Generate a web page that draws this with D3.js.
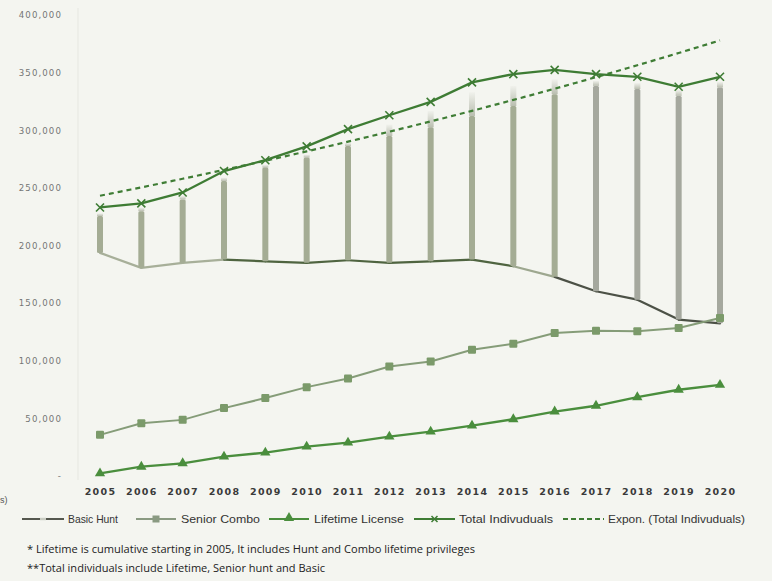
<!DOCTYPE html>
<html>
<head>
<meta charset="utf-8">
<script src="https://cdn.jsdelivr.net/npm/d3@7"></script>
<style>
  html, body { margin: 0; padding: 0; background: #f4f5f0; }
  svg { display: block; }
</style>
</head>
<body>
<svg id="chart" width="772" height="581"></svg>
<script>
// License counts by year
const years = ["2005","2006","2007","2008","2009","2010","2011","2012","2013","2014","2015","2016","2017","2018","2019","2020"];
const basicHunt   = [193600,180600,185000,187800,186300,185000,187200,185000,186300,187800,182000,172800,160300,153000,135700,132500];
const seniorCombo = [35700,45800,48700,58900,67600,77100,84600,95000,99400,109600,114800,124100,126100,125500,128400,137100];
const lifetime    = [2300,8100,11000,16800,20300,25500,29000,34200,38500,43700,49300,55900,60900,68400,74800,79100];
const totalIndiv  = [233000,236500,246000,264600,274000,286000,301000,313000,324600,341500,348700,352400,348700,346400,337700,346400];
// vertical bands rising from the Basic Hunt line
const bandTop  = [225500,229800,240000,255900,267600,276300,286300,295000,302600,312400,321000,331300,338500,335700,329800,337100];
const bandHaze = [228000,233000,243000,259000,270000,279000,289000,305000,316800,333000,338500,344300,343000,341000,335000,342000];
const yTicks = [0,50000,100000,150000,200000,250000,300000,350000,400000];
const legendLabels = ["Basic Hunt","Senior Combo","Lifetime License","Total Indivuduals","Expon. (Total Indivuduals)"];
const notes = [
  "* Lifetime is cumulative starting in 2005, It includes Hunt and Combo lifetime privileges",
  "**Total individuals include Lifetime, Senior hunt and Basic"
];

const svg = d3.select("#chart");
const x = d3.scalePoint().domain(years).range([100, 720]);
const y = d3.scaleLinear().domain([0, 400000]).range([476, 15]);

// y axis
const yAxis = d3.axisLeft(y).tickValues(yTicks).tickSize(0).tickPadding(4)
  .tickFormat(d => d === 0 ? "-" : d3.format(",")(d));
const gy = svg.append("g").attr("transform", "translate(66,0)").call(yAxis);
gy.select(".domain").remove();
gy.selectAll("text").attr("fill", "#757575").style("font-family", "DejaVu Sans")
  .style("font-size", "8.6px").style("letter-spacing", "1.1px");

// faint plot frame line
svg.append("line").attr("x1", 78).attr("x2", 78).attr("y1", 8).attr("y2", 480)
  .attr("stroke", "#e6e7e1").attr("stroke-width", 1);

// x axis
const xAxis = d3.axisBottom(x).tickSize(0).tickPadding(0);
const gx = svg.append("g").attr("transform", "translate(0,488)").call(xAxis);
gx.select(".domain").remove();
gx.selectAll("text").attr("fill", "#3a3a3a").style("font-family", "DejaVu Sans")
  .style("font-weight", "bold").style("font-size", "9.5px").style("letter-spacing", "1.3px");

// Basic Hunt line, drawn segment by segment
const basicSegColor = (i) => i < 3 ? "#a7af99" : (i < 10 ? "#4f6440" : (i === 10 ? "#9da78f" : "#4c5146"));
for (let i = 0; i < years.length - 1; i++) {
  svg.append("line")
    .attr("x1", x(years[i])).attr("y1", y(basicHunt[i]))
    .attr("x2", x(years[i + 1])).attr("y2", y(basicHunt[i + 1]))
    .attr("stroke", basicSegColor(i)).attr("stroke-width", 2.2).attr("stroke-linecap", "round");
}

// bands
const defs = svg.append("defs");
const grad = defs.append("linearGradient").attr("id", "haze").attr("x1", 0).attr("x2", 0).attr("y1", 0).attr("y2", 1);
grad.append("stop").attr("offset", "0%").attr("stop-color", "#a6ab9a").attr("stop-opacity", 0.05);
grad.append("stop").attr("offset", "100%").attr("stop-color", "#a6ab9a").attr("stop-opacity", 0.75);

const bandData = years.map((yr, i) => ({ yr, lo: basicHunt[i], hi: bandTop[i], haze: bandHaze[i], i }));
svg.append("g").selectAll("rect.haze").data(bandData).join("rect")
  .attr("class", "haze")
  .attr("x", d => x(d.yr) - 3).attr("width", 6)
  .attr("y", d => y(d.haze)).attr("height", d => Math.max(0, y(d.hi) - y(d.haze)))
  .attr("fill", "url(#haze)");
svg.append("g").selectAll("rect.band").data(bandData).join("rect")
  .attr("class", "band")
  .attr("x", d => x(d.yr) - 3).attr("width", 6)
  .attr("y", d => y(d.hi)).attr("height", d => y(d.lo) - y(d.hi))
  .attr("rx", 1.5)
  .attr("fill", d => d.i >= 12 ? "#a5a89e" : "#a4ac94");

// Senior Combo
const line = d3.line().x((d, i) => x(years[i])).y(d => y(d));
svg.append("path").datum(seniorCombo).attr("d", line)
  .attr("fill", "none").attr("stroke", "#859c78").attr("stroke-width", 2);
svg.append("g").selectAll("rect").data(seniorCombo).join("rect")
  .attr("x", (d, i) => x(years[i]) - 4).attr("y", d => y(d) - 4)
  .attr("width", 8).attr("height", 8).attr("rx", 1)
  .attr("fill", "#7b9a6a");

// Lifetime License
svg.append("path").datum(lifetime).attr("d", line)
  .attr("fill", "none").attr("stroke", "#4a8e3d").attr("stroke-width", 2.4);
const tri = d3.symbol().type(d3.symbolTriangle).size(46);
svg.append("g").selectAll("path").data(lifetime).join("path")
  .attr("d", tri)
  .attr("transform", (d, i) => `translate(${x(years[i])},${y(d)})`)
  .attr("fill", "#4a8e3d");

// exponential trend of Total Individuals (least squares on ln values)
const n = totalIndiv.length;
const lnv = totalIndiv.map(v => Math.log(v));
const mx = d3.mean(d3.range(n));
const my = d3.mean(lnv);
const slope = d3.sum(d3.range(n), i => (i - mx) * (lnv[i] - my)) / d3.sum(d3.range(n), i => (i - mx) ** 2);
const icpt = my - slope * mx;
const xi = d3.scaleLinear().domain([0, n - 1]).range([100, 720]);
const trendPts = d3.range(0, n - 1 + 0.001, 0.25).map(t => [xi(t), y(Math.exp(icpt + slope * t))]);
svg.append("path").datum(trendPts).attr("d", d3.line())
  .attr("fill", "none").attr("stroke", "#3f7d35").attr("stroke-width", 2.2)
  .attr("stroke-dasharray", "5,4");

// Total Individuals
svg.append("path").datum(totalIndiv).attr("d", line)
  .attr("fill", "none").attr("stroke", "#3e7c34").attr("stroke-width", 2.3);
svg.append("g").selectAll("path").data(totalIndiv).join("path")
  .attr("d", "M-4,-4L4,4M-4,4L4,-4")
  .attr("transform", (d, i) => `translate(${x(years[i])},${y(d)})`)
  .attr("stroke", "#3e7c34").attr("stroke-width", 1.6).attr("fill", "none");

// cropped remnant at the far left
svg.append("text").attr("x", 0).attr("y", 503).text("s)")
  .attr("fill", "#555").style("font-family", "Liberation Sans").style("font-size", "9px");

// legend
const lg = svg.append("g").style("font-family", "Liberation Sans").style("font-size", "10.5px").attr("fill", "#333");
const ly = 519;
const items = [
  { x1: 22, x2: 64, tx: 68, tw: 50, color: "#55584f", mark: "gap" },
  { x1: 136, x2: 176, tx: 181, tw: 79, color: "#8a9a82", mark: "square" },
  { x1: 269, x2: 309, tx: 314, tw: 90, color: "#4a8e3d", mark: "tri" },
  { x1: 414, x2: 455, tx: 459, tw: 94, color: "#3e7c34", mark: "x" },
  { x1: 563, x2: 604, tx: 608, tw: 137, color: "#3e7c34", mark: "dash" }
];
items.forEach((it, k) => {
  const mid = (it.x1 + it.x2) / 2;
  lg.append("line").attr("x1", it.x1).attr("x2", it.x2).attr("y1", ly).attr("y2", ly)
    .attr("stroke", it.color).attr("stroke-width", 2.2)
    .attr("stroke-dasharray", it.mark === "dash" ? "5,3" : null);
  if (it.mark === "gap") {
    lg.append("line").attr("x1", mid - 3).attr("x2", mid + 3).attr("y1", ly).attr("y2", ly)
      .attr("stroke", "#c9ccc2").attr("stroke-width", 2.4);
  } else if (it.mark === "square") {
    lg.append("rect").attr("x", mid - 3.5).attr("y", ly - 3.5).attr("width", 7).attr("height", 7).attr("fill", "#8a9a82");
  } else if (it.mark === "tri") {
    lg.append("path").attr("d", tri).attr("transform", `translate(${mid},${ly - 1})`).attr("fill", it.color);
  } else if (it.mark === "x") {
    lg.append("path").attr("d", "M-3,-3L3,3M-3,3L3,-3").attr("transform", `translate(${mid},${ly})`)
      .attr("stroke", it.color).attr("stroke-width", 1.5);
  }
  lg.append("text").attr("x", it.tx).attr("y", ly + 3.8).text(legendLabels[k])
    .attr("textLength", it.tw).attr("lengthAdjust", "spacingAndGlyphs");
});

// footnotes
const fn = svg.append("g").style("font-family", "Open Sans").style("font-size", "11.5px").attr("fill", "#222");
fn.append("text").attr("x", 27).attr("y", 553).text(notes[0]).attr("textLength", 448).attr("lengthAdjust", "spacingAndGlyphs");
fn.append("text").attr("x", 27).attr("y", 572).text(notes[1]).attr("textLength", 298).attr("lengthAdjust", "spacingAndGlyphs");
</script>
</body>
</html>
